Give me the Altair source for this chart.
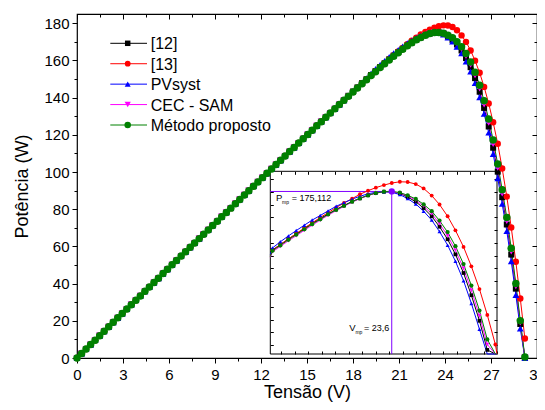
import altair as alt
import pandas as pd

FONT = "Liberation Sans"
PURPLE = "#8000ff"

# ---------------- data ----------------
volts = [0.00, 0.30, 0.59, 0.89, 1.18, 1.48, 1.77, 2.07, 2.36, 2.66,
         2.95, 3.25, 3.54, 3.84, 4.13, 4.43, 4.72, 5.02, 5.31, 5.61,
         5.90, 6.20, 6.49, 6.79, 7.08, 7.38, 7.67, 7.97, 8.26, 8.56,
         8.85, 9.15, 9.44, 9.74, 10.03, 10.33, 10.62, 10.92, 11.21, 11.51,
         11.80, 12.10, 12.39, 12.69, 12.98, 13.28, 13.57, 13.87, 14.16, 14.46,
         14.75, 15.05, 15.34, 15.64, 15.93, 16.23, 16.52, 16.82, 17.11, 17.41,
         17.70, 18.00, 18.29, 18.59, 18.88, 19.18, 19.47, 19.77, 20.06, 20.36,
         20.65, 20.95, 21.24, 21.54, 21.83, 22.13, 22.42, 22.72, 23.01, 23.31,
         23.60, 23.90, 24.19, 24.49, 24.78, 25.08, 25.37, 25.67, 25.96, 26.26,
         26.55, 26.85, 27.14, 27.44, 27.73, 28.03, 28.32, 28.62, 28.91, 29.21]

# linear part, where all five curves coincide (0 - 17.4 V)
p_shared = [0.0, 2.4, 4.8, 7.2, 9.6, 12.0, 14.4, 16.8, 19.2, 21.6,
            23.9, 26.3, 28.7, 31.1, 33.4, 35.9, 38.2, 40.6, 42.9, 45.4,
            47.7, 50.1, 52.4, 54.8, 57.1, 59.5, 61.8, 64.2, 66.6, 68.9,
            71.3, 73.6, 76.0, 78.3, 80.6, 83.0, 85.3, 87.7, 90.0, 92.4,
            94.7, 97.0, 99.3, 101.7, 104.0, 106.3, 108.6, 111.0, 113.2, 115.6,
            117.9, 120.2, 122.5, 124.9, 127.1, 129.5, 131.7, 134.0, 136.3, 138.6]

tail_12 = [141.0, 143.3, 145.5, 147.8, 149.9, 152.2, 154.3, 156.5, 158.5, 160.6,
           162.6, 164.5, 166.3, 168.1, 169.6, 171.2, 172.4, 173.6, 174.5, 175.0,
           175.0, 174.4, 172.9, 171.1, 168.6, 165.4, 161.3, 156.4, 150.5, 143.2,
           134.5, 124.5, 113.1, 100.2, 86.5, 71.8, 55.6, 37.3, 18.3, 0.0]
tail_13 = [140.8, 143.1, 145.4, 147.6, 149.8, 152.1, 154.3, 156.5, 158.6, 160.8,
           162.8, 164.9, 166.8, 168.8, 170.6, 172.3, 174.0, 175.4, 176.6, 177.6,
           178.4, 178.9, 178.8, 178.0, 176.3, 173.5, 170.0, 165.4, 159.9, 153.4,
           145.8, 136.9, 126.8, 115.2, 101.9, 86.8, 70.2, 51.8, 32.0, 10.5]
tail_pvsyst = [141.1, 143.5, 145.8, 148.2, 150.5, 153.0, 155.4, 157.7, 159.8, 161.9,
               163.9, 165.7, 167.5, 169.3, 170.7, 172.1, 173.2, 174.2, 174.8, 175.0,
               174.8, 173.9, 172.3, 170.2, 167.4, 163.9, 159.4, 154.1, 147.8, 140.2,
               131.3, 121.2, 109.7, 96.7, 82.9, 68.2, 52.0, 33.9, 15.8, 0.0]
tail_cec = [140.4, 142.7, 144.9, 147.2, 149.3, 151.5, 153.6, 155.8, 157.8, 159.9,
            161.9, 163.9, 165.8, 167.6, 169.3, 170.9, 172.3, 173.5, 174.5, 175.0,
            175.0, 174.5, 173.3, 171.7, 169.4, 166.4, 162.5, 157.8, 152.1, 145.0,
            136.4, 126.5, 115.2, 102.3, 88.5, 73.7, 57.3, 38.7, 19.2, 0.3]
tail_proposto = [140.7, 143.0, 145.2, 147.5, 149.6, 151.9, 154.0, 156.2, 158.2, 160.3,
                 162.3, 164.2, 166.1, 167.9, 169.5, 171.1, 172.4, 173.6, 174.5, 175.0,
                 175.112, 174.7, 173.6, 172.2, 170.1, 167.4, 163.7, 159.2, 153.7, 146.7,
                 138.3, 128.5, 117.2, 104.3, 90.5, 75.6, 59.0, 40.1, 20.1, 0.6]

series_names = ["[12]", "[13]", "PVsyst", "CEC - SAM", "Método proposto"]
series_tails = [tail_12, tail_13, tail_pvsyst, tail_cec, tail_proposto]
series_colors = ["#000000", "#ff0000", "#0000ff", "#ff00ff", "#008000"]
series_shapes = ["square", "circle", "triangle-up", "triangle-down", "circle"]
main_sizes = [36, 56, 56, 50, 72]
inset_sizes = [14, 18, 20, 20, 22]
legend_sizes = [30, 42, 46, 46, 50]

x_major = [0, 3, 6, 9, 12, 15, 18, 21, 24, 27, 30]
x_minor = [1.5, 4.5, 7.5, 10.5, 13.5, 16.5, 19.5, 22.5, 25.5, 28.5]
y_major = [0, 20, 40, 60, 80, 100, 120, 140, 160, 180]
y_minor = [10, 30, 50, 70, 90, 110, 130, 150, 170]
inset_x_ticks = [19.5, 20.0, 20.5, 21.0, 21.5, 22.0, 22.5, 23.0, 23.5, 24.0,
                 24.5, 25.0, 25.5, 26.0, 26.5, 27.0, 27.5]
inset_y_ticks = [115, 120, 125, 130, 135, 140, 145, 150, 155, 160, 165, 170, 175, 180]

main_x_domain = [0, 30]
main_y_domain = [0, 185]
inset_x_domain = [19.1, 27.5]
inset_y_domain = [111.5, 183]
pmp_v = 23.6
pmp_p = 175.112

# ---------------- table ----------------
rows = []
for s_idx, (name, tail) in enumerate(zip(series_names, series_tails)):
    for k, (v, p) in enumerate(zip(volts, p_shared + tail)):
        rows.append({"serie": name, "V": v, "P": p, "k": k, "s": s_idx})
df = pd.DataFrame(rows)
legend_df = pd.DataFrame({"serie": series_names})

W, H = 460, 344
INSET_X_PX = [193.3, 420.0]
INSET_Y_PX = [340.0, 157.3]
LEGEND_Y_PX = [29.3, 111.0]


def main_xs():
    return alt.Scale(domain=main_x_domain, nice=False, zero=False)


def main_ys():
    return alt.Scale(domain=main_y_domain, nice=False, zero=False)


def inset_xs():
    return alt.Scale(domain=inset_x_domain, range=INSET_X_PX, nice=False, zero=False, clamp=True)


def inset_ys():
    return alt.Scale(domain=inset_y_domain, range=INSET_Y_PX, nice=False, zero=False, clamp=True)


def legend_y():
    return alt.Y("serie:N", scale=alt.Scale(type="point", domain=series_names, range=LEGEND_Y_PX, padding=0),
                 axis=None)


color_scale = alt.Scale(domain=series_names, range=series_colors)
shape_scale = alt.Scale(domain=series_names, range=series_shapes)


def tick_axis(orient, values, size, offset=0):
    return alt.Axis(orient=orient, values=values, tickSize=size, offset=offset,
                    labels=False, domain=False, grid=False, title=None,
                    ticks=True, tickColor="black", tickWidth=1)


def axis_layer(xs, ys, xaxis, yaxis):
    return alt.Chart(df).transform_filter("datum.k == 0 && datum.s == 0").mark_point(opacity=0).encode(
        x=alt.X("V:Q", scale=xs, axis=xaxis),
        y=alt.Y("P:Q", scale=ys, axis=yaxis),
    )


# ---------------- main plot ----------------
main_line = alt.Chart(df).mark_line(strokeWidth=1).encode(
    x=alt.X("V:Q", scale=main_xs(), axis=alt.Axis(
        orient="bottom", values=x_major, tickSize=5, labelFlush=False, labelOverlap=False,
        domain=False, grid=False, title="Tensão (V)", titlePadding=1, labelPadding=4, format="d")),
    y=alt.Y("P:Q", scale=main_ys(), axis=alt.Axis(
        orient="left", values=y_major, tickSize=5, labelOverlap=False,
        domain=False, grid=False, title="Potência (W)", titlePadding=12, labelPadding=3, format="d")),
    color=alt.Color("serie:N", scale=color_scale, legend=None),
    order=alt.Order("k:Q"),
)

main_pts = alt.Chart(df).mark_point(filled=True, opacity=1).encode(
    x=alt.X("V:Q", scale=main_xs(), axis=None),
    y=alt.Y("P:Q", scale=main_ys(), axis=None),
    color=alt.Color("serie:N", scale=color_scale, legend=None),
    shape=alt.Shape("serie:N", scale=shape_scale, legend=None),
    size=alt.Size("serie:N", scale=alt.Scale(domain=series_names, range=main_sizes), legend=None),
)

ax_minor = axis_layer(main_xs(), main_ys(), tick_axis("bottom", x_minor, 3), tick_axis("left", y_minor, 3))
ax_tr_major = axis_layer(main_xs(), main_ys(), tick_axis("top", x_major, 5, -5), tick_axis("right", y_major, 5, -5))
ax_tr_minor = axis_layer(main_xs(), main_ys(), tick_axis("top", x_minor, 3, -3), tick_axis("right", y_minor, 3, -3))

# ---------------- legend (line + marker + label) ----------------
leg_line = alt.Chart(legend_df).mark_rule(strokeWidth=1).encode(
    x=alt.value(33.3), x2=alt.value(70.0), y=legend_y(),
    color=alt.Color("serie:N", scale=color_scale, legend=None))
leg_pt = alt.Chart(legend_df).mark_point(filled=True, opacity=1).encode(
    x=alt.value(50.7), y=legend_y(),
    color=alt.Color("serie:N", scale=color_scale, legend=None),
    shape=alt.Shape("serie:N", scale=shape_scale, legend=None),
    size=alt.Size("serie:N", scale=alt.Scale(domain=series_names, range=legend_sizes), legend=None))
leg_txt = alt.Chart(legend_df).mark_text(align="left", baseline="middle", fontSize=16, font=FONT,
                                         color="black", dy=1).encode(
    x=alt.value(73.7), y=legend_y(), text="serie:N")

# ---------------- inset ----------------
frame_df = pd.DataFrame({"x0": [inset_x_domain[0]], "x1": [inset_x_domain[1]],
                         "y0": [inset_y_domain[0]], "y1": [inset_y_domain[1]]})
inset_frame = alt.Chart(frame_df).mark_rect(fill="white", fillOpacity=0, stroke="black", strokeWidth=1).encode(
    x=alt.X("x0:Q", scale=inset_xs(), axis=None), x2=alt.X2("x1"),
    y=alt.Y("y0:Q", scale=inset_ys(), axis=None), y2=alt.Y2("y1"),
)

inset_line = alt.Chart(df).transform_filter("datum.V > 18.8 && datum.V < 27.8").mark_line(strokeWidth=1).encode(
    x=alt.X("V:Q", scale=inset_xs(), axis=None),
    y=alt.Y("P:Q", scale=inset_ys(), axis=None),
    color=alt.Color("serie:N", scale=color_scale, legend=None),
    order=alt.Order("k:Q"),
)
in_filter = (f"datum.V >= {inset_x_domain[0]} && datum.V <= {inset_x_domain[1]} && "
             f"datum.P >= {inset_y_domain[0]} && datum.P <= {inset_y_domain[1]}")
inset_pts = alt.Chart(df).transform_filter(in_filter).mark_point(filled=True, opacity=1).encode(
    x=alt.X("V:Q", scale=inset_xs(), axis=None),
    y=alt.Y("P:Q", scale=inset_ys(), axis=None),
    color=alt.Color("serie:N", scale=color_scale, legend=None),
    shape=alt.Shape("serie:N", scale=shape_scale, legend=None),
    size=alt.Size("serie:N", scale=alt.Scale(domain=series_names, range=inset_sizes), legend=None),
)

pmp_df = pd.DataFrame({"v0": [inset_x_domain[0]], "v": [pmp_v], "p": [pmp_p], "p0": [inset_y_domain[0]]})
h_rule = alt.Chart(pmp_df).mark_rule(color=PURPLE, strokeWidth=1).encode(
    x=alt.X("v0:Q", scale=inset_xs(), axis=None), x2=alt.X2("v"),
    y=alt.Y("p:Q", scale=inset_ys(), axis=None))
v_rule = alt.Chart(pmp_df).mark_rule(color=PURPLE, strokeWidth=1).encode(
    x=alt.X("v:Q", scale=inset_xs(), axis=None),
    y=alt.Y("p0:Q", scale=inset_ys(), axis=None), y2=alt.Y2("p"))
dot = alt.Chart(pmp_df).mark_circle(color=PURPLE, size=40, opacity=1).encode(
    x=alt.X("v:Q", scale=inset_xs(), axis=None),
    y=alt.Y("p:Q", scale=inset_ys(), axis=None))

p_txt = "= " + f"{pmp_p:.3f}".replace(".", ",")
v_txt = "= " + f"{pmp_v:.1f}".replace(".", ",")


def inset_text(text, xf, yf, dx, dy, size):
    return alt.Chart(pmp_df).mark_text(text=text, align="left", baseline="alphabetic", dx=dx, dy=dy,
                                       fontSize=size, font=FONT, color="black").encode(
        x=alt.X(f"{xf}:Q", scale=inset_xs(), axis=None),
        y=alt.Y(f"{yf}:Q", scale=inset_ys(), axis=None))


texts = [
    inset_text("P", "v0", "p", 5.7, 10, 9.5),
    inset_text("mp", "v0", "p", 11.8, 12.5, 5),
    inset_text(p_txt, "v0", "p", 21.4, 10, 9),
    inset_text("V", "v", "p0", -42.5, -23, 9.5),
    inset_text("mp", "v", "p0", -36.3, -20.5, 5),
    inset_text(v_txt, "v", "p0", -27.7, -23, 9),
]

inset_ax_a = axis_layer(inset_xs(), inset_ys(), tick_axis("bottom", inset_x_ticks, 3, -7),
                        tick_axis("left", inset_y_ticks, 3, -196.3))
inset_ax_b = axis_layer(inset_xs(), inset_ys(), tick_axis("top", inset_x_ticks, 3, -160.3),
                        tick_axis("right", inset_y_ticks, 3, -(W - 417.0)))

chart = alt.layer(
    inset_frame, h_rule, v_rule, inset_line, inset_pts, dot, *texts,
    inset_ax_a, inset_ax_b, ax_minor, ax_tr_major, ax_tr_minor,
    main_line, main_pts, leg_line, leg_pt, leg_txt,
).resolve_scale(
    x="independent", y="independent", size="independent"
).properties(
    width=W, height=H,
    autosize=alt.AutoSizeParams(type="none"),
    padding={"left": 69, "top": 6, "right": 0, "bottom": 44},
    background="white",
).configure_view(
    stroke="black", strokeWidth=1.2
).configure_axis(
    labelFont=FONT, titleFont=FONT, labelFontSize=15, titleFontSize=18,
    titleFontWeight="normal", labelColor="black", titleColor="black",
    tickColor="black", domainColor="black",
)

chart.save("out.html", embed_options={"renderer": "svg", "actions": False})
